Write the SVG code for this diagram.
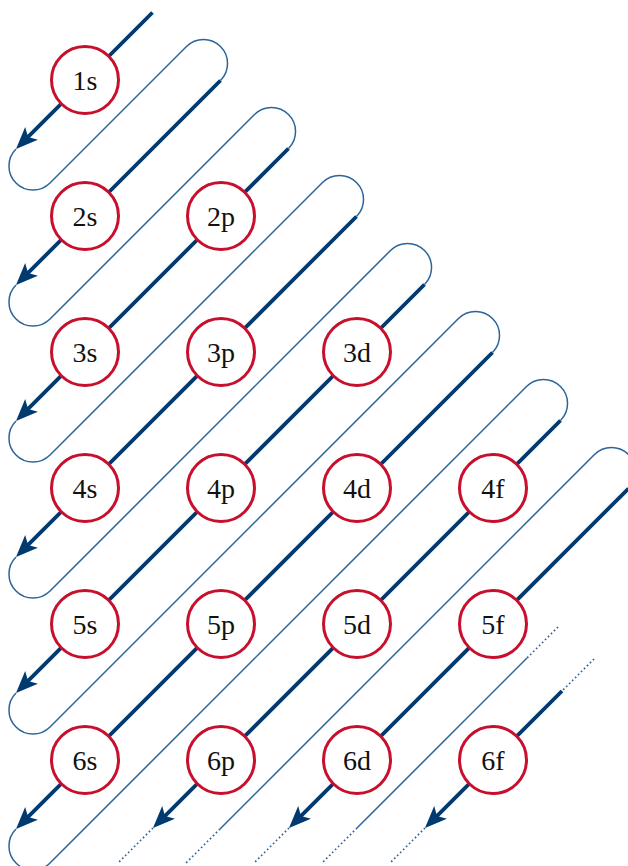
<svg xmlns="http://www.w3.org/2000/svg" width="628" height="866" viewBox="0 0 628 866">
<style>
.thin{fill:none;stroke:#2b659a;stroke-width:1.5}
.thick{fill:none;stroke:#003a6e;stroke-width:3.8;marker-end:url(#ah)}
.dot{fill:none;stroke:#2b659a;stroke-width:1.7;stroke-dasharray:1.6 2.6}
.node circle{fill:#fff;stroke:#c8102e;stroke-width:3}
.node text{font-family:"Liberation Serif","DejaVu Serif",serif;font-size:28px;fill:#111;text-anchor:middle}
</style>
<defs>
<marker id="ah" markerUnits="userSpaceOnUse" viewBox="0 -10 24 20" markerWidth="24" markerHeight="20" refX="7" refY="0" orient="auto">
<path d="M0,-9 L22,0 L0,9 L5,0 Z" fill="#003a6e"/>
</marker>
</defs>
<rect width="628" height="866" fill="#fff"/>
<g id="connectors">
<path class="thin" d="M16,149 A24.04,24.04 0 0 0 50,183 L186.5,46.5 A24.04,24.04 0 0 1 220.5,80.5"/>
<path class="thin" d="M16,285 A24.04,24.04 0 0 0 50,319 L254.5,114.5 A24.04,24.04 0 0 1 288.5,148.5"/>
<path class="thin" d="M16,421 A24.04,24.04 0 0 0 50,455 L322.5,182.5 A24.04,24.04 0 0 1 356.5,216.5"/>
<path class="thin" d="M16,557 A24.04,24.04 0 0 0 50,591 L390.5,250.5 A24.04,24.04 0 0 1 424.5,284.5"/>
<path class="thin" d="M16,693 A24.04,24.04 0 0 0 50,727 L458.5,318.5 A24.04,24.04 0 0 1 492.5,352.5"/>
<path class="thin" d="M16,829 A24.04,24.04 0 0 0 50,863 L526.5,386.5 A24.04,24.04 0 0 1 560.5,420.5"/>
<path class="thin" d="M220,829 L594.5,454.5 A24.04,24.04 0 0 1 628.5,488.5"/>
<path class="thin" d="M357,828 L527,658"/>
<path class="dot" d="M153,828 L118,863"/>
<path class="dot" d="M220,829 L185,864"/>
<path class="dot" d="M289,828 L254,863"/>
<path class="dot" d="M357,828 L322,863"/>
<path class="dot" d="M425,828 L390,863"/>
<path class="dot" d="M558,627 L527,658"/>
<path class="dot" d="M594,659 L562,691"/>
<path class="thick" d="M152.5,12.5 L26.6,138.4"/>
<path class="thick" d="M220.5,80.5 L26.6,274.4"/>
<path class="thick" d="M288.5,148.5 L26.6,410.4"/>
<path class="thick" d="M356.5,216.5 L26.6,546.4"/>
<path class="thick" d="M424.5,284.5 L26.6,682.4"/>
<path class="thick" d="M492.5,352.5 L26.6,818.4"/>
<path class="thick" d="M560.5,420.5 L163.6,817.4"/>
<path class="thick" d="M628.5,488.5 L299.6,817.4"/>
<path class="thick" d="M562,691 L435.6,817.4"/>
</g>
<g id="n1s" class="node"><circle cx="85" cy="80" r="33.5"/><text x="85" y="90">1s</text></g>
<g id="n2s" class="node"><circle cx="85" cy="216" r="33.5"/><text x="85" y="226">2s</text></g>
<g id="n2p" class="node"><circle cx="221" cy="216" r="33.5"/><text x="221" y="226">2p</text></g>
<g id="n3s" class="node"><circle cx="85" cy="352" r="33.5"/><text x="85" y="362">3s</text></g>
<g id="n3p" class="node"><circle cx="221" cy="352" r="33.5"/><text x="221" y="362">3p</text></g>
<g id="n3d" class="node"><circle cx="357" cy="352" r="33.5"/><text x="357" y="362">3d</text></g>
<g id="n4s" class="node"><circle cx="85" cy="488" r="33.5"/><text x="85" y="498">4s</text></g>
<g id="n4p" class="node"><circle cx="221" cy="488" r="33.5"/><text x="221" y="498">4p</text></g>
<g id="n4d" class="node"><circle cx="357" cy="488" r="33.5"/><text x="357" y="498">4d</text></g>
<g id="n4f" class="node"><circle cx="493" cy="488" r="33.5"/><text x="493" y="498">4f</text></g>
<g id="n5s" class="node"><circle cx="85" cy="624" r="33.5"/><text x="85" y="634">5s</text></g>
<g id="n5p" class="node"><circle cx="221" cy="624" r="33.5"/><text x="221" y="634">5p</text></g>
<g id="n5d" class="node"><circle cx="357" cy="624" r="33.5"/><text x="357" y="634">5d</text></g>
<g id="n5f" class="node"><circle cx="493" cy="624" r="33.5"/><text x="493" y="634">5f</text></g>
<g id="n6s" class="node"><circle cx="85" cy="760" r="33.5"/><text x="85" y="770">6s</text></g>
<g id="n6p" class="node"><circle cx="221" cy="760" r="33.5"/><text x="221" y="770">6p</text></g>
<g id="n6d" class="node"><circle cx="357" cy="760" r="33.5"/><text x="357" y="770">6d</text></g>
<g id="n6f" class="node"><circle cx="493" cy="760" r="33.5"/><text x="493" y="770">6f</text></g>
</svg>
